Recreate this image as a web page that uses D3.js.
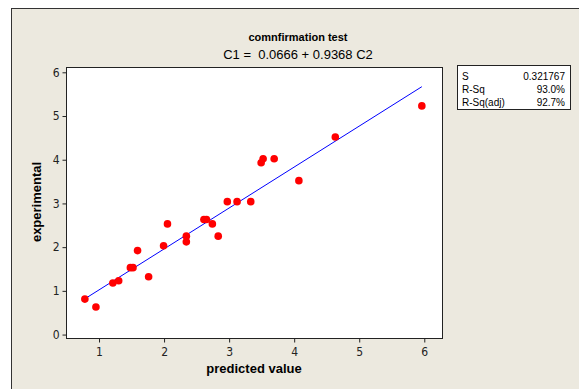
<!DOCTYPE html>
<html>
<head>
<meta charset="utf-8">
<script src="https://cdn.jsdelivr.net/npm/d3@7"></script>
<style>
  body { margin: 0; background: #fff; }
  text { font-family: "Liberation Sans", Arial, sans-serif; }
</style>
</head>
<body>
<div id="chart"></div>
<script>
// predicted (C2) vs experimental (C1)
const predicted = [0.79, 0.96, 1.22, 1.31, 1.49, 1.53, 1.60, 1.77, 2.00, 2.06,
  2.35, 2.35, 2.62, 2.66, 2.75, 2.84, 2.98, 3.13, 3.34, 3.50, 3.53, 3.70, 4.08, 4.64, 5.97];
const experimental = [0.80, 0.62, 1.17, 1.22, 1.52, 1.52, 1.91, 1.31, 2.02, 2.52,
  2.24, 2.11, 2.62, 2.62, 2.52, 2.24, 3.03, 3.03, 3.03, 3.92, 4.01, 4.01, 3.51, 4.51, 5.22];
const xTicks = [1, 2, 3, 4, 5, 6];
const yTicks = [0, 1, 2, 3, 4, 5, 6];
const intercept = 0.0666, slope = 0.9368;
const statLabels = ["S", "R-Sq", "R-Sq(adj)"];
const statValues = ["0.321767", "93.0%", "92.7%"];

const width = 579, height = 389;
const plot = {left: 66, top: 67, right: 442, bottom: 338};

const svg = d3.select("#chart").append("svg")
  .attr("width", width)
  .attr("height", height);

// outer panel
svg.append("rect")
  .attr("x", 11.5).attr("y", 8.5)
  .attr("width", 600).attr("height", 400)
  .attr("fill", "#ECE9DF")
  .attr("stroke", "#333");

const x = d3.scaleLinear().domain([0.5, 6.28]).range([plot.left, plot.right]);
const y = d3.scaleLinear().domain([-0.09, 6.11]).range([plot.bottom, plot.top]);

svg.append("rect")
  .attr("x", plot.left + 0.5).attr("y", plot.top + 0.5)
  .attr("width", plot.right - plot.left).attr("height", plot.bottom - plot.top)
  .attr("fill", "#fff")
  .attr("stroke", "#222");

var gX = svg.append("g")
  .attr("transform", `translate(0.5, ${plot.bottom + 0.5})`)
  .call(d3.axisBottom(x).tickValues(xTicks).tickFormat(d3.format("d")).tickSize(4).tickSizeOuter(0));
var gY = svg.append("g")
  .attr("transform", `translate(${plot.left + 0.5}, 0.5)`)
  .call(d3.axisLeft(y).tickValues(yTicks).tickFormat(d3.format("d")).tickSize(4).tickSizeOuter(0));

[gX, gY].forEach(g => {
  g.select(".domain").remove();
  g.selectAll("line").attr("stroke", "#222");
  g.selectAll("text").attr("font-size", 12).attr("fill", "#222")
    .style("font-family", "'DejaVu Sans Condensed', 'Liberation Sans', sans-serif");
});
gX.selectAll("text").attr("dy", "0.9em");

// fitted line
const xs = d3.extent(predicted);
svg.append("line")
  .attr("x1", x(xs[0])).attr("y1", y(intercept + slope * xs[0]))
  .attr("x2", x(xs[1])).attr("y2", y(intercept + slope * xs[1]))
  .attr("stroke", "#0000FF")
  .attr("stroke-width", 1);

svg.selectAll(".point")
  .data(predicted)
  .enter()
  .append("circle")
  .attr("class", "point")
  .attr("cx", (d, i) => x(d))
  .attr("cy", (d, i) => y(experimental[i]))
  .attr("r", 3.8)
  .style("fill", "#FF0000");

// titles
svg.append("text")
  .attr("x", 298).attr("y", 41)
  .attr("text-anchor", "middle")
  .attr("font-size", 11).attr("font-weight", "bold")
  .text("comnfirmation test");
svg.append("text")
  .attr("x", 298).attr("y", 59)
  .attr("text-anchor", "middle")
  .attr("font-size", 13)
  .style("white-space", "pre")
  .text(`C1 =  ${intercept} + ${slope} C2`);

svg.append("text")
  .attr("x", 254).attr("y", 373)
  .attr("text-anchor", "middle")
  .attr("font-size", 13).attr("font-weight", "bold")
  .text("predicted value");
svg.append("text")
  .attr("transform", `translate(41, 202) rotate(-90)`)
  .attr("text-anchor", "middle")
  .attr("font-size", 13).attr("font-weight", "bold")
  .text("experimental");

// stats box
const box = svg.append("g").attr("transform", "translate(457, 65)");
box.append("rect")
  .attr("x", 0.5).attr("y", 0.5)
  .attr("width", 113).attr("height", 44)
  .attr("fill", "#fff")
  .attr("stroke", "#222");
statLabels.forEach((s, i) => {
  box.append("text")
    .attr("x", 5).attr("y", 15 + i * 13)
    .attr("font-size", 10)
    .text(s);
  box.append("text")
    .attr("x", 108).attr("y", 15 + i * 13)
    .attr("text-anchor", "end")
    .attr("font-size", 10)
    .text(statValues[i]);
});
</script>
</body>
</html>
